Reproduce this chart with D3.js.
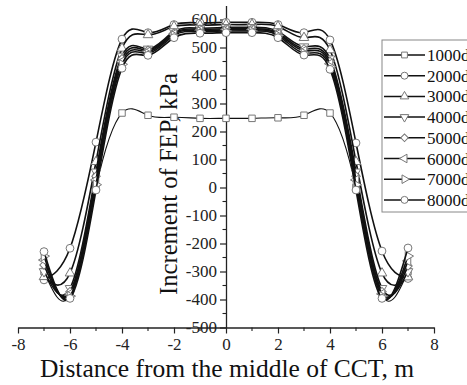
<!DOCTYPE html>
<html><head><meta charset="utf-8">
<script src="https://cdn.jsdelivr.net/npm/d3@7"></script>
<style>body{margin:0;background:#fff}svg{display:block}</style>
</head><body>
<svg id="c" width="467" height="385"></svg>
<script>
const xs = [-7,-6,-5,-4,-3,-2,-1,0,1,2,3,4,5,6,7];
const seriesNames = ["1000d","2000d","3000d","4000d","5000d","6000d","7000d","8000d"];
const s1000 = [-300,-385,0,266,258,251,247,247,247,249,258,266,0,-385,-300];
const s2000 = [-330,-217,162,530,553,582,588,590,590,582,553,527,159,-227,-325];
const s3000 = [-319,-306,92,497,545,575,580,582,582,575,535,491,92,-306,-320];
const s4000 = [-300,-360,56,470,495,557,569,572,572,557,503,460,56,-360,-300];
const s5000 = [-277,-372,40,460,490,552,565,567,567,552,495,450,40,-372,-280];
const s6000 = [-259,-380,27,450,485,548,561,563,563,548,488,442,27,-380,-262];
const s7000 = [-245,-388,10,440,479,543,557,559,559,543,480,432,10,-388,-245];
const s8000 = [-229,-396,-9,426,472,535,551,553,553,535,473,422,-9,-396,-216];
const allSeries = [s1000,s2000,s3000,s4000,s5000,s6000,s7000,s8000];
const xTicks = [-8,-6,-4,-2,0,2,4,6,8];
const yTicks = [-500,-400,-300,-200,-100,0,100,200,300,400,500,600];

const svg = d3.select("#c");
const x = d3.scaleLinear().domain([-8,8]).range([18,434]);
const y = d3.scaleLinear().domain([-500,650]).range([327.5,5.5]);
const font = "'Liberation Serif','Times New Roman',serif";

// markers
const tri = d3.symbolTriangle;
const markers = [
  {type:d3.symbolSquare, rot:0, size:42},
  {type:d3.symbolCircle, rot:0, size:48},
  {type:tri, rot:0, size:40},
  {type:tri, rot:180, size:40},
  {type:d3.symbolSquare, rot:45, size:36},
  {type:tri, rot:-90, size:40},
  {type:tri, rot:90, size:40},
  {type:d3.symbolCircle, rot:0, size:48}
];

// axes
const fmt = d => String(d);
const yAxis = d3.axisLeft(y).tickValues(yTicks).tickFormat(fmt).tickSize(6).tickSizeOuter(0).tickPadding(3);
const gy = svg.append("g").attr("transform",`translate(${x(0)},0)`).call(yAxis);
gy.attr("font-family",font);
gy.selectAll("text").attr("font-family",font).attr("font-size",17).attr("fill","#222");
gy.select(".domain").attr("stroke","#222").attr("stroke-width",1.3);
gy.selectAll(".tick line").attr("stroke","#222").attr("stroke-width",1.2);
const yMinor = d3.range(-450,650,100);
gy.selectAll(".minor").data(yMinor).enter().append("line")
  .attr("x1",0).attr("x2",-3.5).attr("y1",d=>y(d)).attr("y2",d=>y(d))
  .attr("stroke","#222").attr("stroke-width",1.1);

const xAxis = d3.axisBottom(x).tickValues(xTicks).tickFormat(fmt).tickSize(6).tickSizeOuter(0).tickPadding(4);
const gx = svg.append("g").attr("transform",`translate(0,${y(-500)})`).call(xAxis);
gx.attr("font-family",font);
gx.selectAll("text").attr("font-family",font).attr("font-size",17).attr("fill","#222");
gx.select(".domain").attr("stroke","#222").attr("stroke-width",1.3);
gx.selectAll(".tick line").attr("stroke","#222").attr("stroke-width",1.2);
const xMinor = d3.range(-7,8,2);
gx.selectAll(".minor").data(xMinor).enter().append("line")
  .attr("x1",d=>x(d)).attr("x2",d=>x(d)).attr("y1",0).attr("y2",3.5)
  .attr("stroke","#222").attr("stroke-width",1.1);

// titles
svg.append("text").attr("x",227).attr("y",377).attr("text-anchor","middle")
  .attr("font-family",font).attr("font-size",25.5).attr("fill","#111")
  .text("Distance from the middle of CCT, m");
svg.append("text").attr("transform","translate(177,184) rotate(-90)").attr("text-anchor","middle")
  .attr("font-family",font).attr("font-size",24.7).attr("fill","#111")
  .text("Increment of FEP, kPa");

// series
const line = d3.line().x((d,i)=>x(xs[i])).y(d=>y(d)).curve(d3.curveNatural);
allSeries.forEach((s,k)=>{
  const g = svg.append("g");
  g.append("path").attr("d",line(s)).attr("fill","none")
    .attr("stroke","#111").attr("stroke-width",k===0?1.1:1.6);
  const m = markers[k];
  g.selectAll("path.m").data(s).enter().append("path").attr("class","m")
    .attr("d",d3.symbol().type(m.type).size(m.size)())
    .attr("transform",(d,i)=>`translate(${x(xs[i])},${y(d)}) rotate(${m.rot})`)
    .attr("fill","#fff").attr("stroke","#777").attr("stroke-width",1);
});

// legend
const lg = svg.append("g");
lg.append("rect").attr("x",382).attr("y",40).attr("width",100).attr("height",172)
  .attr("fill","#fff").attr("stroke","#888").attr("stroke-width",1);
seriesNames.forEach((n,k)=>{
  const yy = 55 + k*20.7;
  lg.append("line").attr("x1",384).attr("x2",425).attr("y1",yy).attr("y2",yy)
    .attr("stroke","#111").attr("stroke-width",1.5);
  const m = markers[k];
  lg.append("path").attr("d",d3.symbol().type(m.type).size(m.size*0.8)())
    .attr("transform",`translate(404.5,${yy}) rotate(${m.rot})`)
    .attr("fill","#fff").attr("stroke","#777").attr("stroke-width",1);
  lg.append("text").attr("x",427).attr("y",yy+6).attr("font-family",font)
    .attr("font-size",17).attr("fill","#111").text(n);
});
</script>
</body></html>
